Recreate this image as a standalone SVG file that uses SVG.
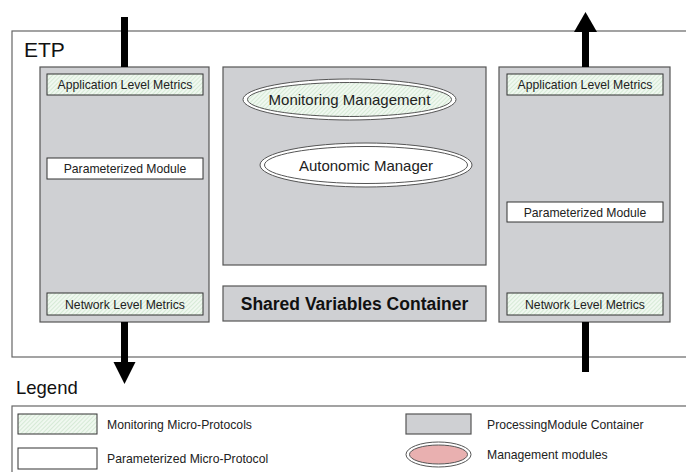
<svg xmlns="http://www.w3.org/2000/svg" width="686" height="472" viewBox="0 0 686 472">
<defs>
<pattern id="hatch" width="3" height="3" patternUnits="userSpaceOnUse" patternTransform="rotate(45)">
<rect width="3" height="3" fill="#f0f8f0"/>
<line x1="0" y1="0" x2="0" y2="3" stroke="#bcdcbc" stroke-width="1"/>
</pattern>
</defs>
<style>
.cont{fill:#cfd0d3;stroke:#555;stroke-width:1.2}
.mon{fill:url(#hatch);stroke:#333;stroke-width:1}
.par{fill:#fff;stroke:#333;stroke-width:1}
.t{font-family:"Liberation Sans",Arial,sans-serif;font-size:12.2px;fill:#222;text-anchor:middle}
.tl{font-family:"Liberation Sans",Arial,sans-serif;font-size:12.2px;fill:#222}
.big{font-family:"Liberation Sans",Arial,sans-serif;font-size:15px;fill:#222;text-anchor:middle}
.arr{stroke:#000;stroke-width:7;fill:none}
.eo{stroke:#555;stroke-width:1}
.ei{stroke:#555;stroke-width:1}
</style>
<rect width="686" height="472" fill="#fff"/>
<g id="etp">
<rect x="12" y="31" width="690" height="326" fill="none" stroke="#666" stroke-width="1.2"/>
<text x="24" y="57" style="font-family:'Liberation Sans',Arial,sans-serif;font-size:21px;fill:#111">ETP</text>
</g>
<g id="left-container">
<rect class="cont" x="40" y="67" width="169" height="255"/>
</g>
<g id="left-app">
<rect class="mon" x="47" y="74" width="156" height="21"/>
<text class="t" x="125" y="89">Application Level Metrics</text>
</g>
<g id="left-param">
<rect class="par" x="47" y="158" width="156" height="21"/>
<text class="t" x="125" y="173">Parameterized Module</text>
</g>
<g id="left-net">
<rect class="mon" x="47" y="293" width="156" height="22"/>
<text class="t" x="125" y="308.5">Network Level Metrics</text>
</g>
<g id="center-container">
<rect class="cont" x="223" y="67" width="263" height="198"/>
</g>
<g id="monitoring-management">
<ellipse cx="349.5" cy="99.5" rx="106.5" ry="20.5" fill="#fff" class="eo"/>
<ellipse cx="349.5" cy="99.5" rx="102" ry="17" fill="url(#hatch)" class="ei"/>
<text class="big" x="349.5" y="105">Monitoring Management</text>
</g>
<g id="autonomic-manager">
<ellipse cx="366" cy="165" rx="106" ry="22" fill="#fff" class="eo"/>
<ellipse cx="366" cy="165" rx="101.5" ry="18.5" fill="#fff" class="ei"/>
<text class="big" x="366" y="170.5">Autonomic Manager</text>
</g>
<g id="shared-variables">
<rect class="cont" x="223" y="286" width="263" height="35"/>
<text x="354.5" y="310" style="font-family:'Liberation Sans',Arial,sans-serif;font-size:17.5px;font-weight:bold;fill:#111;text-anchor:middle">Shared Variables Container</text>
</g>
<g id="right-container">
<rect class="cont" x="499" y="67" width="171" height="255"/>
</g>
<g id="right-app">
<rect class="mon" x="507" y="74" width="156" height="21"/>
<text class="t" x="585" y="89">Application Level Metrics</text>
</g>
<g id="right-param">
<rect class="par" x="507" y="202" width="156" height="20"/>
<text class="t" x="585" y="216.5">Parameterized Module</text>
</g>
<g id="right-net">
<rect class="mon" x="507" y="293" width="156" height="22"/>
<text class="t" x="585" y="308.5">Network Level Metrics</text>
</g>
<g id="connectors">
<line class="arr" x1="124.5" y1="17" x2="124.5" y2="67"/>
<line x1="124.5" y1="322" x2="124.5" y2="362" class="arr"/>
<path d="M113.5,362 L135.5,362 L124.5,384 Z" fill="#000"/>
<line x1="585.5" y1="67" x2="585.5" y2="30" class="arr"/>
<path d="M574,32 L597,32 L585.5,12 Z" fill="#000"/>
<line x1="585.5" y1="322" x2="585.5" y2="372" class="arr"/>
</g>
<g id="legend">
<text x="16" y="394" style="font-family:'Liberation Sans',Arial,sans-serif;font-size:18.5px;fill:#111">Legend</text>
<rect x="12" y="406" width="690" height="80" fill="none" stroke="#666" stroke-width="1.2"/>
<rect class="mon" x="18" y="414" width="79" height="20"/>
<text class="tl" x="107" y="428.5">Monitoring Micro-Protocols</text>
<rect class="par" x="18" y="448" width="79" height="21"/>
<text class="tl" x="107" y="463">Parameterized Micro-Protocol</text>
<rect class="cont" x="406" y="414" width="65" height="20"/>
<text class="tl" x="487" y="428.5">ProcessingModule Container</text>
<ellipse cx="438.5" cy="454.5" rx="32.5" ry="12.5" fill="#fff" class="eo"/>
<ellipse cx="438.5" cy="454.5" rx="29" ry="9.5" fill="#e9b0b0" class="ei"/>
<text class="tl" x="487" y="458.5">Management modules</text>
</g>
</svg>
